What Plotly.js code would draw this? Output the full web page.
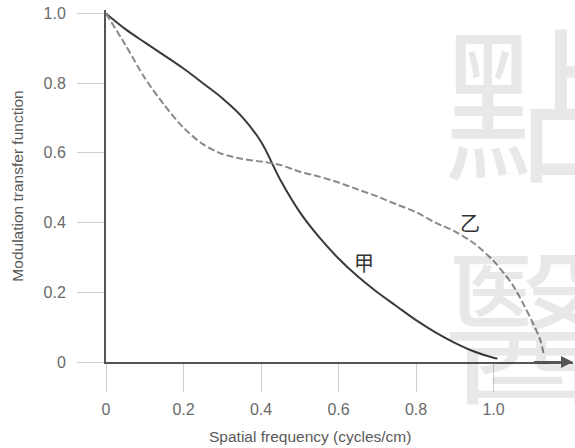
<!DOCTYPE html>
<html>
<head>
<meta charset="utf-8">
<script src="https://cdn.plot.ly/plotly-3.0.1.min.js"></script>
<style>html,body{margin:0;padding:0;background:#fff;}#chart{width:575px;height:448px;}</style>
</head>
<body>
<div id="chart"></div>
<script>
// Curve 甲 (solid)
var freqA = [0, 0.05, 0.1, 0.15, 0.2, 0.25, 0.3, 0.35, 0.4, 0.45, 0.5, 0.55, 0.6, 0.65, 0.7, 0.75, 0.8, 0.85, 0.9, 0.95, 1.0, 1.01];
var mtfA  = [1.0, 0.955, 0.917, 0.88, 0.842, 0.8, 0.757, 0.705, 0.632, 0.522, 0.43, 0.358, 0.297, 0.245, 0.2, 0.16, 0.12, 0.085, 0.055, 0.03, 0.012, 0.01];
// Curve 乙 (dashed)
var freqB = [0, 0.05, 0.1, 0.15, 0.2, 0.25, 0.3, 0.35, 0.4, 0.45, 0.5, 0.55, 0.6, 0.65, 0.7, 0.75, 0.8, 0.85, 0.9, 0.95, 1.0, 1.05, 1.08, 1.1, 1.12, 1.13];
var mtfB  = [1.0, 0.91, 0.815, 0.738, 0.672, 0.625, 0.597, 0.583, 0.575, 0.565, 0.546, 0.532, 0.515, 0.495, 0.475, 0.452, 0.43, 0.40, 0.375, 0.34, 0.29, 0.22, 0.16, 0.115, 0.065, 0.02];
// Ticks
var xTicks = [0, 0.2, 0.4, 0.6, 0.8, 1.0];
var xTickText = ["0", "0.2", "0.4", "0.6", "0.8", "1.0"];
var yTicks = [0, 0.2, 0.4, 0.6, 0.8, 1.0];
var yTickText = ["0", "0.2", "0.4", "0.6", "0.8", "1.0"];
var curveNames = ["甲", "乙"];
var xTitle = "Spatial frequency (cycles/cm)";
var yTitle = "Modulation transfer function";
var watermark = ["點", "醫"];

var font = "Liberation Sans, Arial, Helvetica, sans-serif";
var traces = [
  {x: freqA, y: mtfA, mode: "lines", name: curveNames[0], line: {color: "#3a3a3a", width: 2, shape: "spline", smoothing: 1}, hoverinfo: "skip"},
  {x: freqB, y: mtfB, mode: "lines", name: curveNames[1], line: {color: "#8a8a8a", width: 2, dash: "7px,3px", shape: "spline", smoothing: 0.8}, hoverinfo: "skip"}
];

var wmFont = {family: "Noto Sans CJK TC", size: 166, color: "rgba(0,0,0,0.09)"};
var layout = {
  width: 575, height: 448,
  margin: {l: 106, r: 2, t: 10, b: 86},
  paper_bgcolor: "#fff", plot_bgcolor: "#fff",
  showlegend: false,
  font: {family: font, color: "#666", size: 16},
  xaxis: {
    range: [0, 1.205], showgrid: false, zeroline: false,
    showline: true, linecolor: "#555", linewidth: 2,
    tickmode: "array", tickvals: xTicks, ticktext: xTickText,
    ticks: "outside", ticklen: 28, tickcolor: "#cfcfcf", tickwidth: 1,
    ticklabelstandoff: 4,
    tickfont: {family: font, size: 16, color: "#6a6a6a"}
  },
  yaxis: {
    range: [0, 1.01], showgrid: false, zeroline: false,
    showline: true, linecolor: "#555", linewidth: 2,
    tickmode: "array", tickvals: yTicks, ticktext: yTickText,
    ticks: "outside", ticklen: 27, tickcolor: "#cfcfcf", tickwidth: 1,
    ticklabelstandoff: 8,
    tickfont: {family: font, size: 16, color: "#6a6a6a"},
    title: {text: yTitle, font: {family: font, size: 15.5, color: "#5a5a5a"}, standoff: 16}
  },
  annotations: [
    {xref: "paper", yref: "paper", x: 0.9, y: 0.755, xanchor: "center", yanchor: "middle",
     text: watermark[0], showarrow: false, font: wmFont},
    {xref: "paper", yref: "paper", x: 0.9, y: 0.125, xanchor: "center", yanchor: "middle",
     text: watermark[1], showarrow: false, font: wmFont},
    {xref: "x", yref: "y", x: 0.665, y: 0.285, text: curveNames[0], showarrow: false,
     font: {family: "Noto Sans CJK SC", size: 20, color: "#333"}},
    {xref: "x", yref: "y", x: 0.94, y: 0.40, text: curveNames[1], showarrow: false,
     font: {family: "Noto Sans CJK SC", size: 20, color: "#333"}},
    {xref: "paper", yref: "paper", x: 0.437, y: -0.213, xanchor: "center", yanchor: "middle",
     text: xTitle, showarrow: false, font: {family: font, size: 15.5, color: "#5a5a5a"}},
    {xref: "x", yref: "y", axref: "x", ayref: "y", x: 1.205, y: 0, ax: 1.1, ay: 0, text: "",
     showarrow: true, arrowhead: 2, arrowsize: 1.2, arrowwidth: 2, arrowcolor: "#555"}
  ]
};

Plotly.newPlot("chart", traces, layout, {displayModeBar: false, staticPlot: true});
</script>
</body>
</html>
